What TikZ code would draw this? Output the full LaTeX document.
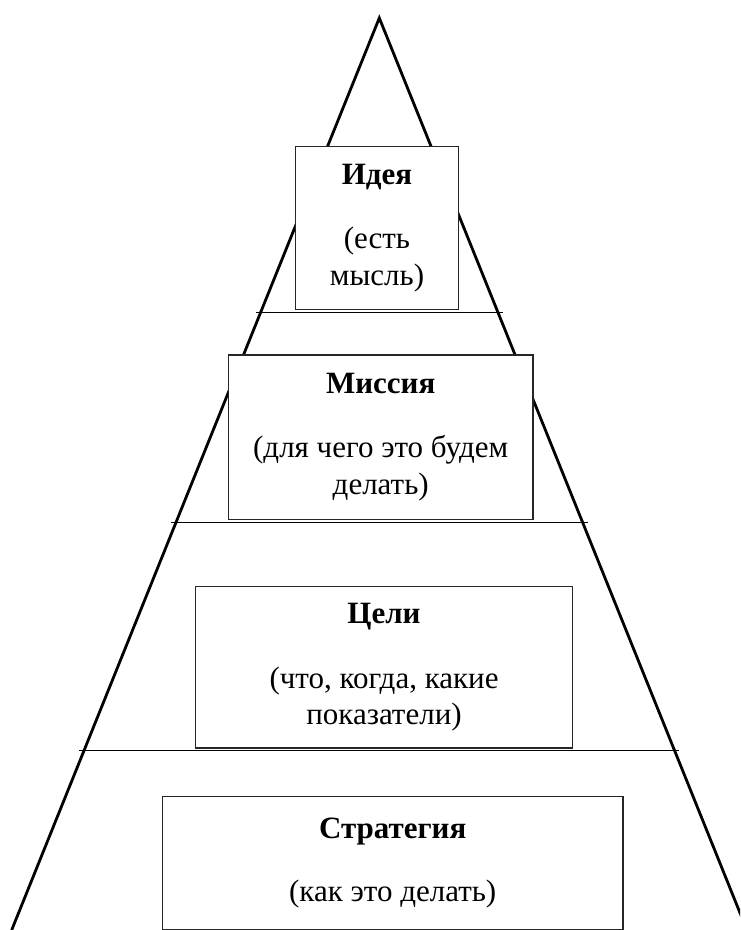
\documentclass[tikz,border=0pt]{standalone}
\usepackage{fontspec}
\setmainfont{Liberation Serif}
\usetikzlibrary{calc}
\tikzset{
  side/.style={line width=1.4pt},
  level/.style={line width=0.65pt, shorten <=-2.5pt, shorten >=-2.5pt},
  tier/.style={draw=black!85, fill=white, line width=0.75pt, inner sep=0pt,
    align=center, font=\fontsize{15.5}{18.3}\selectfont},
}
\begin{document}
\begin{tikzpicture}[x=0.5pt,y=-0.5pt]
  \path[use as bounding box] (0,0) rectangle (740,930);
  \clip (0,0) rectangle (740,930);
  \coordinate (top) at (379.3,18);
  \coordinate (left) at (11.7,930);
  \coordinate (right) at (746.9,930);
  \draw[side] (left) -- (top) -- (right);
  % levels
  \foreach \lv/\f in {a/0.323, b/0.5535, c/0.8028} {
    \coordinate (\lv l) at ($(top)!\f!(left)$);
    \coordinate (\lv r) at ($(top)!\f!(right)$);
    \draw[level] (\lv l) -- (\lv r);
  }
  % boxes
  \node[tier, minimum width=81.6pt, minimum height=81.7pt] (idea) at (377,228)
    {\textbf{Идея}\\[14pt](есть\\мысль)};
  \node[tier, minimum width=152.3pt, minimum height=82.2pt] (mission) at (380.7,437.2)
    {\textbf{Миссия}\\[13.5pt](для чего это будем\\делать)};
  \node[tier, minimum width=188.7pt, minimum height=80.7pt] (goals) at (384,667.3)
    {\textbf{Цели}\\[14pt](что, когда, какие\\показатели)};
  \node[tier, minimum width=230.4pt, minimum height=66.3pt] (strategy) at (392.7,863)
    {\textbf{Стратегия}\\[13pt](как это делать)};
\end{tikzpicture}
\end{document}
